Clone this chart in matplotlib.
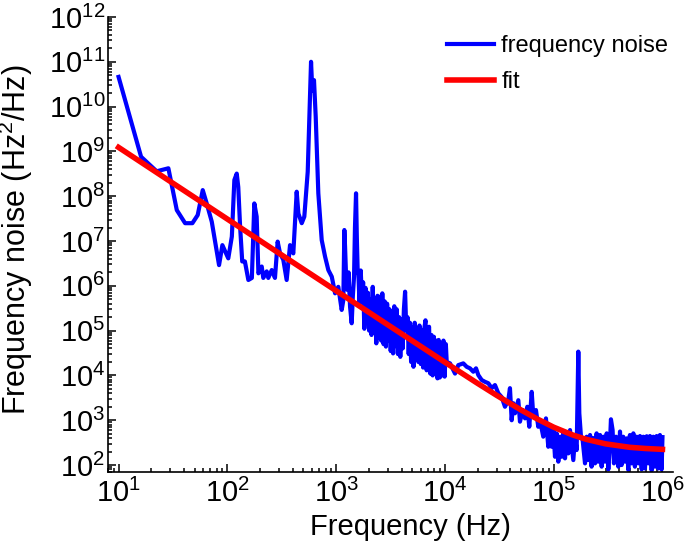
import numpy as np
import matplotlib
matplotlib.use('Agg')
import matplotlib.pyplot as plt
from matplotlib.ticker import LogLocator, NullFormatter

plt.rcParams['font.family'] = ['Liberation Sans', 'DejaVu Sans']
plt.rcParams['mathtext.default'] = 'regular'

noise_freq = [
    10, 16.1, 22.4, 28.7, 34.3, 40.9, 47.7, 53.4, 59.4, 64.6, 71.9, 83.9, 90, 102,
    110, 116, 122, 126, 131, 137, 145, 156, 168, 177, 186, 193, 207, 214, 230, 238,
    256, 274, 290, 305, 327, 351, 377, 404, 434, 450, 483, 510, 548, 588, 604, 626,
    649, 686, 737, 791, 848, 912, 978, 1047, 1125, 1165, 1190,
    1208, 1240, 1268, 1300, 1343, 1390, 1425, 1461, 1490, 1524, 1550, 1580,
    1600, 1641, 1683, 1727, 1771, 1817, 1863, 1911, 1960, 2011, 2062, 2115, 2170,
    2225, 2283, 2341, 2402, 2463, 2527, 2592, 2658, 2727, 2797, 2869, 2942, 3018,
    3096, 3175, 3257, 3340, 3426, 3514, 3605, 3697, 3792, 3890, 3990, 4092, 4197,
    4305, 4416, 4530, 4646, 4766, 4888, 5014, 5143, 5275, 5410, 5549, 5692, 5838,
    5988, 6142, 6300, 6462, 6628, 6798, 6973, 7152, 7336, 7524, 7718, 7916, 8119,
    8328, 8542, 8761, 8986, 9217, 9454, 9697, 9946, 10200, 10390,
    11140, 12390, 13280, 14760, 15850, 17010, 18240, 19320, 20280, 21780, 23380,
    25070, 26910, 28850, 30970, 33240, 35650, 38250, 39630, 41090, 42560, 44080,
    47300, 48980, 51880, 54490, 57200, 59650, 62780, 65000, 68700, 72140, 74800,
    80200, 84900, 89200, 92400,
    95.8e3, 99.3e3, 102.8e3, 106.5e3, 110.3e3, 114.3e3, 118.4e3, 122.7e3, 127.1e3,
    131.6e3, 136.4e3, 141.3e3, 146.3e3, 151.5e3, 157.1e3, 162.6e3, 168.4e3, 172e3,
    178.2e3, 184.6e3, 194.1e3, 201e3, 208e3, 216e3, 223e3, 231e3, 240e3, 248e3,
    257e3, 267e3, 276e3, 286e3, 296e3, 307e3, 318e3, 330e3, 336e3, 348e3, 358e3,
    374e3, 393e3, 407e3, 421e3, 436e3, 452e3, 469e3, 485e3, 502e3, 521e3, 540e3,
    558e3, 579e3, 600e3, 621e3, 644e3, 667e3, 690e3, 716e3, 741e3, 767e3, 795e3,
    824e3, 853e3, 884e3, 916e3, 948e3, 982e3, 1.0e6,
]
noise_psd = [
    4.6e10, 7.6e8, 3.6e8, 4.2e8, 4.9e7, 2.5e7, 2.5e7, 3.8e7, 1.37e8, 6.9e7, 2.7e7,
    2.9e6, 8.1e6, 4.1e6, 1.26e7, 2.3e8, 3.2e8, 1.6e8, 2.1e7, 3.5e6, 3.5e6, 1.35e6,
    1.5e6, 6.9e7, 3.5e7, 1.9e6, 2.7e6, 1.5e6, 2.1e6, 1.5e6, 2.25e6, 1.5e6, 9.7e6,
    5.3e6, 3.8e6, 1.35e6, 8.1e6, 5.3e6, 1.26e8, 4.1e7, 2.5e7, 3.5e7, 3.5e8, 1e11,
    2.3e10, 3.9e10, 6e9, 1.16e8, 1.05e7, 4.5e6, 2.25e6, 1.6e6, 6.8e5, 9.5e5, 2.9e5,
    4.8e5, 1.76e7,
    7.5e6, 1.2e6, 8.1e5, 2.0e6, 3.4e5, 1.46e5, 6.0e5, 1.6e6, 2.0e7, 1.16e8, 1.2e7,
    1.9e6,
    2.0e6, 4.0e5, 2.2e6, 5.0e5, 1.2e6, 1.1e5, 9.0e5, 2.0e5, 7.0e5, 1.0e5, 5.0e5,
    8.0e4, 9.5e5, 9.0e4, 5.0e5, 5.2e4, 6.0e5, 7.0e4, 5.7e5, 6.0e4, 6.8e5, 5.0e4,
    4.5e5, 4.4e4, 4.0e5, 6.0e4, 3.0e5, 3.5e4, 2.5e5, 3.1e4, 3.5e5, 4.5e4, 3.0e5,
    3.0e4, 2.0e5, 2.6e4, 1.8e5, 4.0e4, 3.0e5, 7.4e5, 1.0e5, 2.0e5, 3.0e4, 1.5e5,
    2.0e4, 1.2e5, 1.56e4, 1.5e5, 2.5e4, 1.0e5, 2.0e4, 1.3e5, 1.8e4, 1.0e5, 1.5e4,
    1.1e5, 1.7e5, 1.3e4, 9.0e4, 1.22e5, 1.1e4, 8.0e4, 1.0e4, 7.3e4, 1.2e4, 6.0e4,
    8.6e3, 6.2e4, 9.0e3, 5.0e4, 1.0e4, 6.0e4, 9.4e3, 5.0e4, 2.0e4,
    1.86e4, 1.1e4, 1.7e4, 1.86e4, 1.56e4, 1.44e4, 1.21e4, 1.44e4, 1.02e4, 7.9e3,
    7.2e3, 6.7e3, 5.2e3, 6.1e3, 4.0e3, 3.3e3, 2.0e3, 2.8e3, 5.2e3, 1.0e3, 2.4e3,
    1.43e3, 2.8e3, 930, 1.69e3, 1.1e3, 2.0e3, 716, 4.3e3, 1.2e3, 1.69e3, 716,
    1.0e3, 430, 1.1e3, 256, 780,
    256, 604, 153, 510, 119, 429, 153, 555, 141, 510, 182, 604, 279, 129, 429, 216,
    3.4e4, 1.43e3, 429, 361, 109, 429, 129, 468, 92, 400, 109, 510, 119, 468, 92,
    429, 119, 510, 80, 361, 1050, 604, 109, 429, 92, 560, 100, 429, 119, 394, 78,
    468, 109, 510, 92, 429, 109, 444, 80, 429, 84, 440, 109, 444, 76, 429, 92, 444,
    84, 468, 80, 420,
]

# fitted curve
fit_freq = [10, 30, 100, 300, 1e3, 3e3, 1e4, 2e4, 3e4, 5e4, 7e4, 1e5, 1.5e5,
            2e5, 3e5, 5e5, 7e5, 1e6]
fit_psd = [1.23e9, 2.12e8, 3.09e7, 5.3e6, 7.77e5, 1.34e5, 1.97e4, 6640, 3580,
           1700, 1080, 700, 468, 374, 297, 249, 234, 224]

fig = plt.figure(figsize=(6.85, 5.48), dpi=100)
ax = fig.add_axes([0.1577, 0.1387, 0.8248, 0.8303])

ax.loglog(noise_freq, noise_psd, color='#0000ff', lw=3, label='frequency noise')
ax.loglog(fit_freq, fit_psd, color='#ff0000', lw=4, label='fit')

ax.set_xlim(8.0, 1.25e6)
ax.set_ylim(70, 1e12)

ax.xaxis.set_major_locator(LogLocator(base=10, numticks=20))
ax.yaxis.set_major_locator(LogLocator(base=10, numticks=20))
for axis in (ax.xaxis, ax.yaxis):
    axis.set_minor_locator(LogLocator(base=10, subs=np.arange(2, 10), numticks=200))
    axis.set_minor_formatter(NullFormatter())

ax.spines['top'].set_visible(False)
ax.spines['right'].set_visible(False)
for s in ('left', 'bottom'):
    ax.spines[s].set_linewidth(1.2)
ax.tick_params(which='both', direction='in', width=1.1)
ax.tick_params(which='major', length=6, labelsize=21)
ax.tick_params(which='minor', length=3)
ax.tick_params(axis='y', pad=2)
ax.tick_params(axis='x', pad=5)

ax.set_xlabel('Frequency (Hz)', fontsize=21)
ax.set_ylabel('Frequency noise (Hz$^2$/Hz)', fontsize=22)
ax.xaxis.set_label_coords(0.535, -0.09)
ax.yaxis.set_label_coords(-0.13, 0.51)

ax.legend(loc='upper left', bbox_to_anchor=(0.6, 0.96), frameon=False,
          fontsize=17, handlelength=2.0, handletextpad=0.3, labelspacing=0.6,
          borderpad=0, borderaxespad=0)

fig.savefig('out.png', dpi=100)
